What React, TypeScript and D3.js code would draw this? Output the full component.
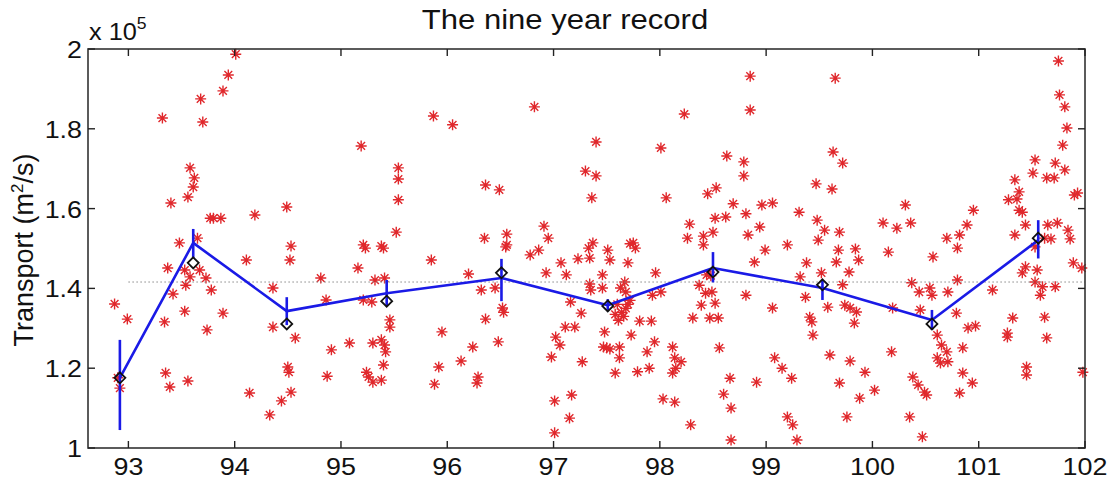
import * as d3 from "d3";

// years of the mean points, the line values, the diamond values, and error bar ends (x 1e5 m^2/s)
const meanYears = [92.92, 93.61, 94.49, 95.43, 96.51, 97.51, 98.5, 99.53, 100.56, 101.56];
const lineValues = [1.176, 1.514, 1.343, 1.388, 1.426, 1.358, 1.451, 1.401, 1.321, 1.521];
const diamondValues = [1.176, 1.464, 1.311, 1.368, 1.439, 1.356, 1.441, 1.409, 1.311, 1.526];
const errLow = [1.045, 1.475, 1.308, 1.355, 1.368, 1.343, 1.415, 1.371, 1.296, 1.475];
const errHigh = [1.271, 1.549, 1.378, 1.421, 1.474, 1.373, 1.491, 1.421, 1.346, 1.571];
const recordMean = 1.416;

const xTicks = [93, 94, 95, 96, 97, 98, 99, 100, 101, 102];
const yTicks = [1, 1.2, 1.4, 1.6, 1.8, 2];
const yTickLabels = ["1", "1.2", "1.4", "1.6", "1.8", "2"];

// individual estimates: [year, transport x 1e5]
const samples: [number, number][] = [
  [94.01, 1.987], [93.94, 1.935], [93.89, 1.895], [93.68, 1.875], [93.32, 1.827], [93.7, 1.817],
  [95.19, 1.757], [93.58, 1.702], [95.54, 1.702], [93.62, 1.677], [93.61, 1.654], [95.54, 1.674],
  [93.4, 1.614], [93.56, 1.629], [95.54, 1.622], [93.77, 1.576], [93.8, 1.576], [93.87, 1.576],
  [94.19, 1.584], [94.49, 1.604], [95.52, 1.541], [93.48, 1.514], [93.65, 1.526], [94.53, 1.506],
  [95.21, 1.509], [95.38, 1.506],
  [92.87, 1.361], [92.99, 1.323], [92.92, 1.15], [92.9, 1.176], [93.37, 1.451], [93.53, 1.446],
  [93.67, 1.446], [93.58, 1.429], [93.73, 1.426], [93.54, 1.408], [93.78, 1.396], [93.42, 1.386],
  [93.34, 1.316], [93.53, 1.343], [93.74, 1.296], [93.89, 1.338], [94.11, 1.471], [94.52, 1.471],
  [94.36, 1.401], [94.36, 1.303], [94.57, 1.276], [93.35, 1.188], [93.39, 1.153], [93.56, 1.168],
  [94.14, 1.138], [94.44, 1.118], [94.33, 1.083], [94.53, 1.14], [94.5, 1.203], [94.51, 1.19],
  [94.81, 1.426], [94.86, 1.371], [94.91, 1.246], [94.87, 1.18], [95.08, 1.263], [95.16, 1.451],
  [95.23, 1.501], [95.4, 1.501], [95.32, 1.421], [95.41, 1.426], [95.21, 1.371], [95.29, 1.366],
  [95.46, 1.321], [95.46, 1.303], [95.3, 1.263], [95.38, 1.271], [95.41, 1.258], [95.42, 1.241],
  [95.4, 1.208], [95.24, 1.19], [95.26, 1.178], [95.3, 1.165], [95.38, 1.17],
  [95.87, 1.832], [96.05, 1.81], [96.82, 1.855], [97.4, 1.767], [97.3, 1.694], [97.4, 1.682],
  [97.36, 1.627], [96.36, 1.659], [96.49, 1.647], [96.35, 1.526], [96.56, 1.536], [96.56, 1.509],
  [96.91, 1.556], [96.95, 1.526], [97.37, 1.514], [97.75, 1.514], [97.72, 1.512], [98.01, 1.752],
  [98.23, 1.837], [98.85, 1.932], [98.85, 1.847], [98.06, 1.627], [98.63, 1.732], [98.79, 1.717],
  [98.79, 1.682], [98.53, 1.652], [98.45, 1.637], [98.69, 1.612], [98.62, 1.579], [98.52, 1.576],
  [98.81, 1.587], [98.28, 1.561], [98.26, 1.526], [98.41, 1.531], [98.5, 1.541], [98.41, 1.509],
  [98.83, 1.534],
  [95.85, 1.471], [96.2, 1.436], [96.32, 1.396], [96.45, 1.401], [96.52, 1.351], [96.53, 1.34],
  [96.36, 1.323], [95.95, 1.291], [96.48, 1.266], [96.24, 1.253], [96.13, 1.218], [95.92, 1.203],
  [95.88, 1.16], [96.29, 1.178], [96.28, 1.163], [96.55, 1.504], [96.78, 1.484], [96.86, 1.496],
  [96.93, 1.439], [97.07, 1.464], [97.12, 1.434], [97.23, 1.474], [97.34, 1.476], [97.33, 1.501],
  [97.51, 1.496], [97.53, 1.471], [97.7, 1.464], [97.77, 1.501], [97.34, 1.411], [97.35, 1.396],
  [97.46, 1.434], [97.46, 1.401], [97.67, 1.416], [97.63, 1.401], [97.68, 1.391], [97.96, 1.439],
  [97.93, 1.383], [98.01, 1.391], [97.16, 1.366], [97.26, 1.338], [97.11, 1.303], [97.2, 1.303],
  [97.02, 1.278], [97.06, 1.258], [96.98, 1.228], [97.27, 1.216], [97.48, 1.291], [97.5, 1.251],
  [97.47, 1.253], [97.53, 1.248], [97.62, 1.253], [97.62, 1.226], [97.58, 1.188], [97.73, 1.283],
  [97.6, 1.36], [97.64, 1.34], [97.66, 1.33], [97.58, 1.335], [97.68, 1.35], [97.72, 1.37],
  [97.7, 1.36], [97.61, 1.32], [97.81, 1.318], [97.92, 1.318], [97.88, 1.241], [97.95, 1.266],
  [97.79, 1.191], [97.9, 1.2], [98.12, 1.253], [98.14, 1.226], [98.2, 1.216], [98.12, 1.188],
  [98.15, 1.2], [98.03, 1.123], [98.14, 1.115], [98.29, 1.058], [98.56, 1.251], [98.31, 1.326],
  [98.47, 1.326], [98.55, 1.326], [98.39, 1.358], [98.52, 1.363], [98.43, 1.388], [98.49, 1.391],
  [98.37, 1.408], [98.44, 1.434], [98.48, 1.432], [98.66, 1.175], [98.6, 1.135], [98.67, 1.1],
  [98.67, 1.02], [98.81, 1.383], [97.01, 1.118], [97.17, 1.133], [97.15, 1.075], [97.01, 1.038],
  [101.75, 1.97], [101.76, 1.885], [101.81, 1.855], [101.83, 1.802], [101.79, 1.759], [101.53, 1.722],
  [101.72, 1.714], [101.81, 1.697], [101.51, 1.689], [101.64, 1.677], [101.71, 1.677], [101.9, 1.634],
  [101.93, 1.639], [101.34, 1.672], [101.38, 1.642], [101.28, 1.622], [101.36, 1.624], [101.38, 1.596],
  [101.41, 1.591], [101.44, 1.559], [101.65, 1.559], [101.74, 1.564], [101.84, 1.546], [101.62, 1.526],
  [101.68, 1.524], [101.86, 1.524], [101.34, 1.534], [99.65, 1.927], [99.63, 1.742], [99.72, 1.714],
  [99.47, 1.662], [99.62, 1.649], [98.96, 1.609], [99.06, 1.614], [99.31, 1.591], [99.48, 1.571],
  [99.55, 1.546], [98.94, 1.554], [99.49, 1.521], [99.69, 1.541], [99.2, 1.509], [100.31, 1.609],
  [100.1, 1.564], [100.23, 1.551], [100.36, 1.564], [100.7, 1.526], [100.82, 1.534], [100.89, 1.559],
  [100.95, 1.596],
  [98.89, 1.466], [98.99, 1.496], [99.38, 1.464], [99.32, 1.429], [99.52, 1.439], [99.66, 1.466],
  [99.78, 1.441], [99.87, 1.471], [99.68, 1.496], [99.84, 1.499], [99.72, 1.409], [100.15, 1.491],
  [100.57, 1.479], [100.8, 1.501], [100.37, 1.414], [100.44, 1.391], [100.54, 1.401], [100.56, 1.383],
  [100.71, 1.391], [100.8, 1.421], [100.79, 1.338], [100.9, 1.301], [100.97, 1.306], [100.85, 1.251],
  [100.45, 1.346], [100.19, 1.351], [100.61, 1.283], [100.65, 1.258], [100.7, 1.241], [100.61, 1.226],
  [100.64, 1.213], [100.71, 1.216], [100.18, 1.241], [100.38, 1.178], [100.43, 1.158], [100.49, 1.14],
  [100.51, 1.133], [100.35, 1.078], [100.47, 1.028], [100.85, 1.188], [100.94, 1.163], [100.82, 1.138],
  [101.13, 1.396], [101.32, 1.326], [101.27, 1.288], [101.27, 1.278], [101.44, 1.454], [101.41, 1.439],
  [101.55, 1.446], [101.53, 1.416], [101.6, 1.404], [101.58, 1.383], [101.62, 1.328], [101.64, 1.276],
  [101.72, 1.404], [101.53, 1.504], [101.89, 1.464], [101.97, 1.451], [101.45, 1.203], [101.45, 1.183],
  [101.98, 1.19], [99.06, 1.351], [99.41, 1.328], [99.43, 1.316], [99.37, 1.378], [99.58, 1.353],
  [99.74, 1.358], [99.79, 1.351], [99.85, 1.341], [99.83, 1.313], [99.44, 1.283], [99.6, 1.233],
  [99.79, 1.218], [99.08, 1.226], [99.15, 1.2], [99.24, 1.175], [98.91, 1.165], [99.93, 1.19],
  [99.69, 1.163], [100.02, 1.145], [99.88, 1.125], [99.2, 1.078], [99.25, 1.058], [99.29, 1.02],
  [99.76, 1.078],
];

const W = 1113;
const H = 481;
const FONT = "'Liberation Sans', Arial, Helvetica, sans-serif";

export default function App() {
  const x = d3.scaleLinear().domain([92.62, 102]).range([88, 1085]);
  const y = d3.scaleLinear().domain([1, 2]).range([448, 49]);
  const [x0, x1] = x.range();
  const [yb, yt] = y.range();

  const meanLine = d3
    .line<number>()
    .x((_, i) => x(meanYears[i]))
    .y((d) => y(d));

  // matlab style '*' marker
  const star = (cx: number, cy: number) => {
    const r = 5.5;
    const a = r * Math.SQRT1_2;
    return `M${cx - r},${cy}L${cx + r},${cy}M${cx},${cy - r}L${cx},${cy + r}` +
      `M${cx - a},${cy - a}L${cx + a},${cy + a}M${cx - a},${cy + a}L${cx + a},${cy - a}`;
  };

  return (
    <svg width={W} height={H} style={{ position: "absolute", left: 0, top: 0, background: "#fff" }} fontFamily={FONT}>
      {/* samples */}
      <g stroke="#e0282c" strokeWidth={1.4} fill="none">
        {samples.map(([yr, v], i) => (
          <path key={i} d={star(x(yr), y(v))} />
        ))}
      </g>

      {/* record mean */}
      <line x1={x(93)} x2={x(102)} y1={y(recordMean)} y2={y(recordMean)} stroke="#888" strokeWidth={1} strokeDasharray="1.5,2.5" />

      {/* error bars and mean line */}
      <g stroke="#1a1ae6" strokeWidth={2.6}>
        {meanYears.map((yr, i) => (
          <line key={i} x1={x(yr)} x2={x(yr)} y1={y(errLow[i])} y2={y(errHigh[i])} />
        ))}
      </g>
      <path d={meanLine(lineValues) ?? ""} fill="none" stroke="#1a1ae6" strokeWidth={2.6} strokeLinejoin="round" />

      {/* diamonds */}
      <g stroke="#111" strokeWidth={1.8} fill="none">
        {meanYears.map((yr, i) => {
          const cx = x(yr);
          const cy = y(diamondValues[i]);
          const s = 5.5;
          return <path key={i} d={`M${cx},${cy - s}L${cx + s},${cy}L${cx},${cy + s}L${cx - s},${cy}Z`} />;
        })}
      </g>

      {/* axes frame and ticks */}
      <rect x={x0} y={yt} width={x1 - x0} height={yb - yt} fill="none" stroke="#333" strokeWidth={1.6} />
      <g stroke="#222" strokeWidth={1.4}>
        {xTicks.map((t) => (
          <g key={t}>
            <line x1={x(t)} x2={x(t)} y1={yb} y2={yb - 7} />
            <line x1={x(t)} x2={x(t)} y1={yt} y2={yt + 7} />
          </g>
        ))}
        {yTicks.map((t) => (
          <g key={t}>
            <line x1={x0} x2={x0 + 7} y1={y(t)} y2={y(t)} />
            <line x1={x1} x2={x1 - 7} y1={y(t)} y2={y(t)} />
          </g>
        ))}
      </g>

      {/* tick labels */}
      <g fontSize={24} fill="#111">
        {xTicks.map((t) => (
          <text key={t} transform={`translate(${x(t)},475) scale(1.12,1)`} textAnchor="middle">
            {t}
          </text>
        ))}
        {yTicks.map((t, i) => (
          <text key={t} transform={`translate(82,${y(t) + 9}) scale(1.12,1)`} textAnchor="end">
            {yTickLabels[i]}
          </text>
        ))}
      </g>

      {/* exponent */}
      <text transform="translate(89,40) scale(1.1,1)" fontSize={23} fill="#111">
        x 10
        <tspan fontSize={16} dy={-11}>5</tspan>
      </text>

      {/* title */}
      <text transform="translate(565,29) scale(1.15,1)" textAnchor="middle" fontSize={27} fill="#111">
        The nine year record
      </text>

      {/* y label */}
      <text transform="translate(33,250) rotate(-90)" textAnchor="middle" fontSize={27} fill="#111">
        Transport (m<tspan fontSize={17} dy={-10}>2</tspan>
        <tspan dy={10}>/s)</tspan>
      </text>
    </svg>
  );
}
